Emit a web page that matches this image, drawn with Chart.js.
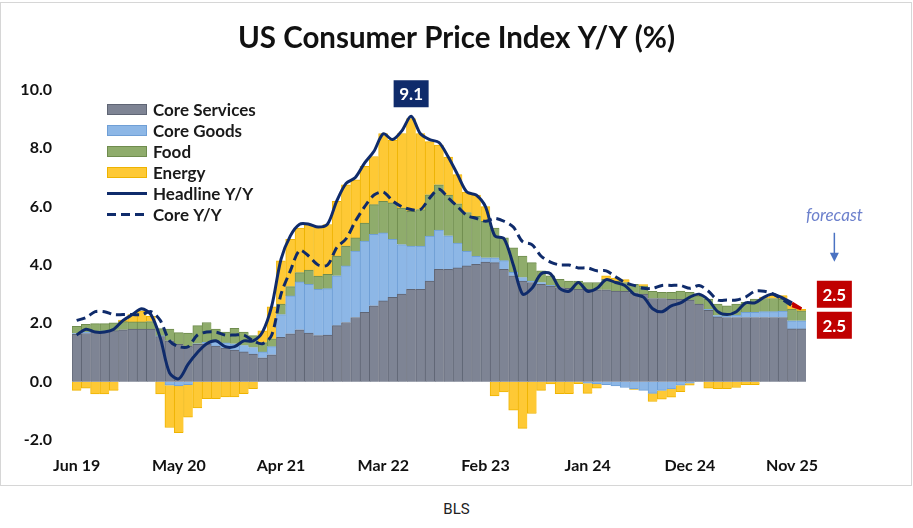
<!DOCTYPE html>
<html>
<head>
<meta charset="utf-8">
<title>US Consumer Price Index Y/Y (%)</title>
<script src="https://cdn.jsdelivr.net/npm/chart.js@4.4.1/dist/chart.umd.min.js"></script>
<style>
  html, body { margin: 0; padding: 0; background: #fff; }
  #frame {
    position: absolute; left: 0; top: 2px; width: 912px; height: 484px;
    border: 1px solid #d6d6d6; box-sizing: border-box;
  }
  #cpi { position: absolute; left: 0; top: 0; }
  #caption {
    position: absolute; left: 0; top: 500px; width: 913px; text-align: center;
    font: 15px Roboto, "Liberation Sans", sans-serif; line-height: 18px; color: #222;
  }
</style>
</head>
<body>
<div id="frame"></div>
<canvas id="cpi" width="913" height="488"></canvas>
<div id="caption">BLS</div>

<script>
// monthly categories, Jun 2019 .. Dec 2025
const months = [
  "Jun 19", "Jul 19", "Aug 19", "Sep 19", "Oct 19", "Nov 19", "Dec 19",
  "Jan 20", "Feb 20", "Mar 20", "Apr 20", "May 20", "Jun 20", "Jul 20", "Aug 20", "Sep 20", "Oct 20", "Nov 20", "Dec 20",
  "Jan 21", "Feb 21", "Mar 21", "Apr 21", "May 21", "Jun 21", "Jul 21", "Aug 21", "Sep 21", "Oct 21", "Nov 21", "Dec 21",
  "Jan 22", "Feb 22", "Mar 22", "Apr 22", "May 22", "Jun 22", "Jul 22", "Aug 22", "Sep 22", "Oct 22", "Nov 22", "Dec 22",
  "Jan 23", "Feb 23", "Mar 23", "Apr 23", "May 23", "Jun 23", "Jul 23", "Aug 23", "Sep 23", "Oct 23", "Nov 23", "Dec 23",
  "Jan 24", "Feb 24", "Mar 24", "Apr 24", "May 24", "Jun 24", "Jul 24", "Aug 24", "Sep 24", "Oct 24", "Nov 24", "Dec 24",
  "Jan 25", "Feb 25", "Mar 25", "Apr 25", "May 25", "Jun 25", "Jul 25", "Aug 25", "Sep 25", "Oct 25", "Nov 25", "Dec 25"
];
const tickLabels = ["Jun 19", "May 20", "Apr 21", "Mar 22", "Feb 23", "Jan 24", "Dec 24", "Nov 25"];
const yTicks = [-2, 0, 2, 4, 6, 8, 10];

// contributions to headline, percentage points
const coreServices = [
  1.62, 1.65, 1.70, 1.72, 1.75, 1.78, 1.80,
  1.80, 1.80, 1.55, 1.40, 1.28, 1.22, 1.28, 1.30, 1.22, 1.15, 1.08, 1.02,
  0.95, 0.82, 0.92, 1.52, 1.64, 1.78, 1.67, 1.58, 1.60, 1.92, 2.03, 2.20,
  2.38, 2.60, 2.77, 2.89, 3.00, 3.17, 3.17, 3.45, 3.85, 3.85, 3.90, 3.97,
  4.02, 4.10, 4.08, 3.85, 3.63, 3.45, 3.40, 3.34, 3.28, 3.23, 3.20, 3.17,
  3.17, 3.15, 3.15, 3.11, 3.10, 3.05, 3.00, 2.85, 2.85, 2.82, 2.82, 2.80,
  2.66, 2.45, 2.22, 2.20, 2.20, 2.20, 2.20, 2.20, 2.20, 2.20, 1.81, 1.81
];
const coreGoods = [
  0.03, 0.05, 0.03, 0.02, 0.00, 0.00, 0.00,
  0.00, 0.00, 0.02, -0.12, -0.15, -0.10, 0.02, 0.05, 0.15, 0.18, 0.22, 0.22,
  0.22, 0.20, 0.28, 0.78, 1.30, 1.64, 1.67, 1.59, 1.59, 1.71, 1.94, 2.28,
  2.44, 2.45, 2.33, 1.99, 1.70, 1.48, 1.48, 1.54, 1.35, 1.15, 0.85, 0.50,
  0.28, 0.15, 0.17, 0.30, 0.12, 0.12, 0.05, 0.06, 0.02, 0.00, 0.00, 0.00,
  -0.05, -0.08, -0.10, -0.15, -0.20, -0.25, -0.30, -0.40, -0.30, -0.25, -0.12, -0.05,
  0.00, 0.03, 0.05, 0.05, 0.08, 0.18, 0.18, 0.20, 0.20, 0.22, 0.28, 0.28
];
const food = [
  0.25, 0.27, 0.26, 0.25, 0.27, 0.28, 0.25,
  0.25, 0.26, 0.25, 0.40, 0.40, 0.45, 0.62, 0.68, 0.43, 0.37, 0.53, 0.46,
  0.41, 0.32, 0.27, 0.36, 0.32, 0.32, 0.49, 0.45, 0.49, 0.68, 0.68, 0.45,
  0.62, 1.02, 1.08, 1.25, 1.25, 1.19, 1.25, 1.42, 1.55, 1.40, 1.35, 1.33,
  1.37, 1.25, 1.02, 0.78, 0.84, 0.74, 0.63, 0.40, 0.33, 0.28, 0.25, 0.28,
  0.23, 0.25, 0.36, 0.34, 0.30, 0.29, 0.28, 0.25, 0.21, 0.24, 0.29, 0.26,
  0.28, 0.35, 0.39, 0.35, 0.38, 0.34, 0.45, 0.45, 0.45, 0.41, 0.40, 0.34
];
const energy = [
  -0.30, -0.22, -0.42, -0.42, -0.30, 0.05, 0.25,
  0.38, 0.18, -0.42, -1.45, -1.60, -1.12, -0.90, -0.58, -0.58, -0.52, -0.52, -0.41,
  -0.24, 0.40, 1.10, 1.48, 1.62, 1.53, 1.56, 1.71, 1.71, 1.87, 2.10, 1.99,
  1.94, 1.65, 2.33, 2.15, 2.56, 3.18, 2.61, 1.82, 1.36, 1.30, 1.00, 0.70,
  0.73, 0.50, -0.49, -0.35, -0.98, -1.60, -1.09, -0.30, -0.08, -0.41, -0.41, -0.07,
  -0.35, -0.14, 0.12, 0.10, 0.10, -0.02, 0.05, -0.28, -0.30, -0.28, -0.22, -0.07,
  0.03, -0.22, -0.24, -0.24, -0.20, -0.10, -0.10, 0.05, 0.12, 0.12, 0.17, 0.05
];

// Y/Y lines, % (no October 2025 release)
const headlineYY = [
  1.6, 1.8, 1.7, 1.7, 1.8, 2.1, 2.3,
  2.5, 2.3, 1.5, 0.3, 0.1, 0.6, 1.0, 1.3, 1.4, 1.2, 1.2, 1.4,
  1.4, 1.7, 2.6, 4.2, 5.0, 5.4, 5.4, 5.3, 5.4, 6.2, 6.8, 7.0,
  7.5, 7.9, 8.5, 8.3, 8.6, 9.1, 8.5, 8.3, 8.2, 7.7, 7.1, 6.5,
  6.4, 6.0, 5.0, 4.9, 4.0, 3.0, 3.2, 3.7, 3.7, 3.2, 3.1, 3.4,
  3.1, 3.2, 3.5, 3.4, 3.3, 3.0, 2.9, 2.5, 2.4, 2.6, 2.7, 2.9,
  3.0, 2.8, 2.4, 2.3, 2.4, 2.7, 2.7, 2.9, 3.0, null, 2.7, null
];
const coreYY = [
  2.1, 2.2, 2.4, 2.4, 2.3, 2.3, 2.3,
  2.3, 2.4, 2.1, 1.4, 1.2, 1.2, 1.6, 1.7, 1.7, 1.6, 1.6, 1.6,
  1.4, 1.3, 1.6, 3.0, 3.8, 4.5, 4.3, 4.0, 4.0, 4.6, 4.9, 5.5,
  6.0, 6.4, 6.5, 6.2, 6.0, 5.9, 5.9, 6.3, 6.6, 6.3, 6.0, 5.7,
  5.6, 5.5, 5.6, 5.5, 5.3, 4.8, 4.7, 4.3, 4.1, 4.0, 4.0, 3.9,
  3.9, 3.8, 3.8, 3.6, 3.4, 3.3, 3.2, 3.2, 3.3, 3.3, 3.3, 3.2,
  3.3, 3.1, 2.8, 2.8, 2.8, 2.9, 3.1, 3.1, 3.0, null, 2.6, null
];
// forecast for Dec 25, joined to the Nov 25 print
const headlineForecast = [2.7, 2.5];
const coreForecast = [2.6, 2.5];

const NAVY = "#0f2b6b";
const RED = "#c00000";
const TITLE = "US Consumer Price Index Y/Y (%)";

function forecastSeries(pair) {
  const out = months.map(() => null);
  out[months.length - 2] = pair[0];
  out[months.length - 1] = pair[1];
  return out;
}

function barSet(label, data, fill, edge) {
  return {
    type: "bar",
    label: label,
    data: data,
    backgroundColor: fill,
    borderColor: edge,
    borderWidth: { left: 1, top: 1, bottom: 1, right: 0 },
    borderSkipped: "start",
    barPercentage: 1,
    categoryPercentage: 1,
    stack: "parts",
    order: 3,
  };
}

function lineSet(label, data, color, dash, stack, order) {
  return {
    type: "line",
    label: label,
    data: data,
    borderColor: color,
    backgroundColor: color,
    borderWidth: 3,
    borderDash: dash,
    pointRadius: 0,
    tension: 0.3,
    spanGaps: true,
    fill: false,
    stack: stack,
    order: order,
  };
}

// title centred on the whole canvas, not on the plot
const titleCentered = {
  id: "titleCentered",
  afterDraw(chart) {
    const ctx = chart.ctx;
    ctx.save();
    ctx.font = "bold 29.5px Lato";
    ctx.fillStyle = "#111";
    ctx.textAlign = "center";
    ctx.textBaseline = "middle";
    ctx.fillText(TITLE, chart.width / 2, 38);
    ctx.restore();
  },
};

// legend drawn inside the plot, top left
const legendInside = {
  id: "legendInside",
  afterDraw(chart) {
    const ctx = chart.ctx;
    const area = chart.chartArea;
    const x0 = area.left + 35;
    let y = area.top + 19.5;
    ctx.save();
    ctx.font = "bold 17px Lato";
    ctx.textBaseline = "middle";
    ctx.textAlign = "left";
    chart.data.datasets.forEach((ds) => {
      if (ds.noLegend) return;
      if (ds.type === "bar") {
        ctx.fillStyle = ds.backgroundColor;
        ctx.fillRect(x0, y - 5.5, 40, 11);
        ctx.strokeStyle = ds.borderColor;
        ctx.lineWidth = 1;
        ctx.strokeRect(x0 + 0.5, y - 5, 39, 10);
      } else {
        ctx.strokeStyle = ds.borderColor;
        ctx.lineWidth = 3;
        ctx.setLineDash(ds.borderDash);
        ctx.beginPath();
        ctx.moveTo(x0, y);
        ctx.lineTo(x0 + 40, y);
        ctx.stroke();
        ctx.setLineDash([]);
      }
      ctx.fillStyle = "#1a1a1a";
      ctx.fillText(ds.label, x0 + 46, y + 1);
      y += 21;
    });
    ctx.restore();
  },
};

function valueBox(ctx, cx, top, text, color) {
  const w = 35, h = 27;
  ctx.fillStyle = color;
  ctx.fillRect(cx - w / 2, top, w, h);
  ctx.fillStyle = "#fff";
  ctx.font = "bold 17px Lato";
  ctx.textAlign = "center";
  ctx.textBaseline = "middle";
  ctx.fillText(text, cx, top + h / 2 + 1);
}

// 9.1 peak tag, forecast tags, "forecast" note
const callouts = {
  id: "callouts",
  afterDatasetsDraw(chart) {
    const ctx = chart.ctx;
    ctx.save();

    let peak = 0;
    headlineYY.forEach((v, i) => { if (v !== null && v > headlineYY[peak]) peak = i; });
    const pk = chart.getDatasetMeta(4).data[peak];
    valueBox(ctx, pk.x, pk.y - 36, headlineYY[peak].toFixed(1), NAVY);

    const last = months.length - 1;
    const fh = chart.getDatasetMeta(6).data[last];
    const fc = chart.getDatasetMeta(7).data[last];
    const bx = fh.x + 33;
    valueBox(ctx, bx, fh.y - 28, headlineForecast[1].toFixed(1), RED);
    valueBox(ctx, bx, fc.y + 3, coreForecast[1].toFixed(1), RED);

    ctx.fillStyle = "#6c80cc";
    ctx.font = "italic 17px Lato";
    ctx.textAlign = "center";
    ctx.textBaseline = "middle";
    ctx.fillText("forecast", bx, fh.y - 93);

    ctx.strokeStyle = "#4a72c2";
    ctx.fillStyle = "#4a72c2";
    ctx.lineWidth = 1.5;
    ctx.beginPath();
    ctx.moveTo(bx, fh.y - 76);
    ctx.lineTo(bx, fh.y - 54);
    ctx.stroke();
    ctx.beginPath();
    ctx.moveTo(bx - 4.5, fh.y - 56);
    ctx.lineTo(bx + 4.5, fh.y - 56);
    ctx.lineTo(bx, fh.y - 47);
    ctx.closePath();
    ctx.fill();

    ctx.restore();
  },
};

new Chart(document.getElementById("cpi"), {
  data: {
    labels: months,
    datasets: [
      barSet("Core Services", coreServices, "#7e8494", "#5f6574"),
      barSet("Core Goods", coreGoods, "#8db7e6", "#6f9fd6"),
      barSet("Food", food, "#8fac6c", "#6f8c4e"),
      barSet("Energy", energy, "#fec935", "#eeb300"),
      lineSet("Headline Y/Y", headlineYY, NAVY, [], "headline", 1),
      lineSet("Core Y/Y", coreYY, NAVY, [9, 5], "core", 1),
      Object.assign(lineSet("Headline forecast", forecastSeries(headlineForecast), RED, [], "fh", 0), { noLegend: true, tension: 0 }),
      Object.assign(lineSet("Core forecast", forecastSeries(coreForecast), RED, [], "fc", 0), { noLegend: true, tension: 0 }),
    ],
  },
  options: {
    responsive: false,
    animation: false,
    layout: { padding: { left: 10, right: 107, top: 90, bottom: 0 } },
    plugins: {
      legend: { display: false },
      tooltip: { enabled: false },
      title: { display: false },
    },
    scales: {
      x: {
        stacked: true,
        offset: true,
        grid: { display: false, drawTicks: false },
        border: { display: false },
        ticks: {
          autoSkip: false,
          maxRotation: 0,
          padding: 16,
          color: "#111",
          font: { family: "Lato", size: 16, weight: "bold" },
          callback: function (value, index) {
            const lab = months[index];
            return tickLabels.includes(lab) ? lab : "";
          },
        },
        afterFit: function (scale) { scale.height = 48; },
      },
      y: {
        stacked: true,
        min: yTicks[0],
        max: yTicks[yTicks.length - 1],
        grid: { display: false, drawTicks: false },
        border: { display: false },
        afterBuildTicks: function (scale) { scale.ticks = yTicks.map((v) => ({ value: v })); },
        ticks: {
          padding: 20,
          color: "#111",
          font: { family: "Lato", size: 16, weight: "bold" },
          callback: function (value) { return Number(value).toFixed(1); },
        },
        afterFit: function (scale) { scale.width = 62; },
      },
    },
  },
  plugins: [titleCentered, legendInside, callouts],
});
</script>
</body>
</html>
